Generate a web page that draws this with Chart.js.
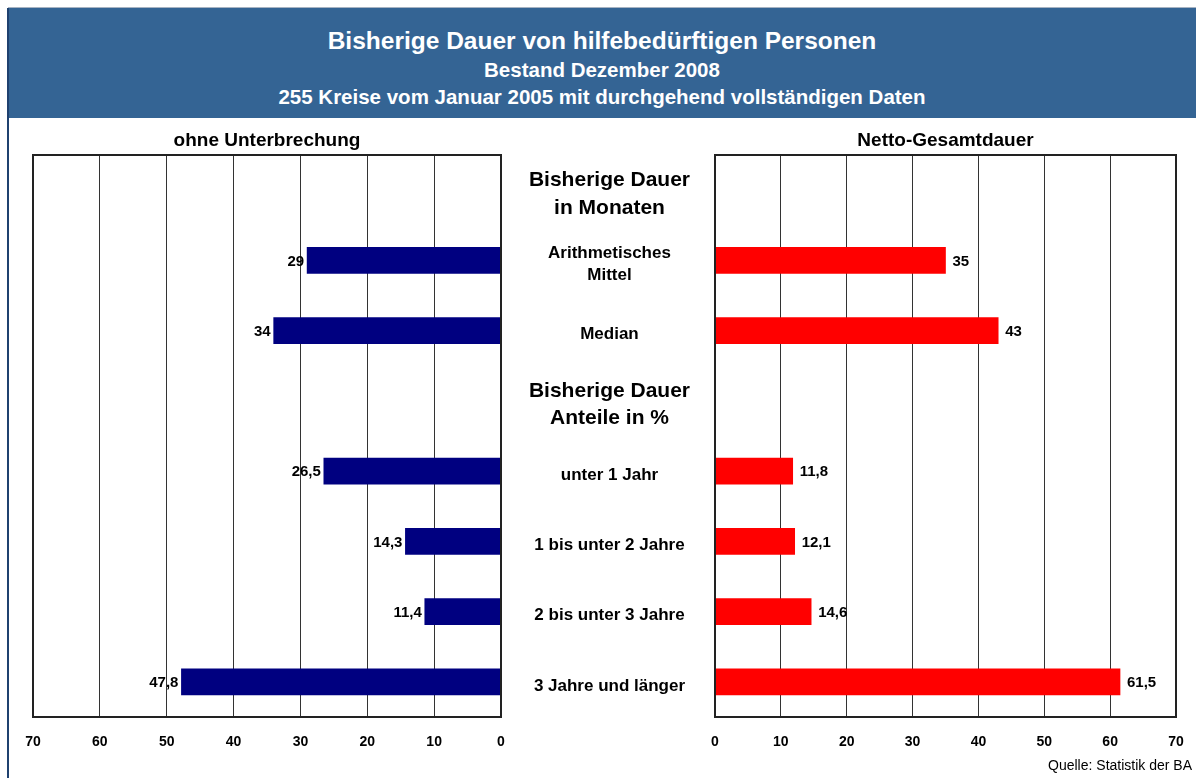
<!DOCTYPE html>
<html>
<head>
<meta charset="utf-8">
<script src="https://cdn.jsdelivr.net/npm/chart.js@4.4.1/dist/chart.umd.min.js"></script>
<style>
body { margin:0; width:1196px; height:778px; background:#fff; position:relative; overflow:hidden; font-family:"Liberation Sans", Arial, sans-serif; }
#head { position:absolute; left:8px; top:7px; width:1188px; height:110px; background:#346494; border-top:1px solid #a7b3c2; color:#fff; font-weight:bold; text-align:center; }
#head div { position:absolute; left:0; width:1188px; white-space:nowrap; }
#t1 { top:19px; font-size:24.5px; line-height:28px; }
#t2 { top:50px; font-size:20.5px; line-height:24px; }
#t3 { top:77px; font-size:20.5px; line-height:24px; }
#edge { position:absolute; left:7px; top:8px; width:2px; height:770px; background:#1f416f; }
#src { position:absolute; right:4px; top:757px; font-size:14px; color:#000; }
canvas { position:absolute; }
#left { left:0; top:118px; }
#right { left:500px; top:118px; }
</style>
</head>
<body>
<div id="head">
  <div id="t1">Bisherige Dauer von hilfebedürftigen Personen</div>
  <div id="t2">Bestand Dezember 2008</div>
  <div id="t3">255 Kreise vom Januar 2005 mit durchgehend vollständigen Daten</div>
</div>
<div id="edge"></div>
<canvas id="left" width="520" height="660"></canvas>
<canvas id="right" width="696" height="660"></canvas>
<div id="src">Quelle: Statistik der BA</div>
<script>
// categories (rows 0 and 3 are section headings without bars)
var categories = [
    ['Bisherige Dauer', 'in Monaten'],
    ['Arithmetisches', 'Mittel'],
    'Median',
    ['Bisherige Dauer', 'Anteile in %'],
    'unter 1 Jahr',
    '1 bis unter 2 Jahre',
    '2 bis unter 3 Jahre',
    '3 Jahre und länger'
];
var headingRows = [0, 3];
var ohneUnterbrechung = [null, 29, 34, null, 26.5, 14.3, 11.4, 47.8];
var nettoGesamtdauer = [null, 35, 43, null, 11.8, 12.1, 14.6, 61.5];
var axisMax = 70;
var axisStep = 10;

function fmt(v) {
    return String(v).replace('.', ',');
}

var framePlugin = {
    id: 'frame',
    afterDraw: function(chart, args, opts) {
        var a = chart.chartArea;
        var ctx = chart.ctx;
        ctx.save();
        ctx.strokeStyle = '#222';
        ctx.lineWidth = 2;
        ctx.strokeRect(a.left, a.top, a.right - a.left, a.bottom - a.top);
        ctx.fillStyle = '#000';
        ctx.font = 'bold 19px "Liberation Sans", Arial, sans-serif';
        ctx.textAlign = 'center';
        ctx.textBaseline = 'middle';
        ctx.fillText(opts.text, (a.left + a.right) / 2, a.top - 14);
        ctx.restore();
    }
};

var valuePlugin = {
    id: 'values',
    afterDatasetsDraw: function(chart, args, opts) {
        var ctx = chart.ctx;
        var meta = chart.getDatasetMeta(0);
        var data = chart.data.datasets[0].data;
        ctx.save();
        ctx.fillStyle = '#000';
        ctx.font = 'bold 15px "Liberation Sans", Arial, sans-serif';
        ctx.textBaseline = 'middle';
        ctx.textAlign = opts.side == 'left' ? 'right' : 'left';
        meta.data.forEach(function(el, i) {
            if (data[i] === null) return;
            var x = opts.side == 'left' ? el.x - 3 : el.x + 7;
            ctx.fillText(fmt(data[i]), x, el.y + 1);
        });
        ctx.restore();
    }
};

function xAxis(reverse) {
    return {
        reverse: reverse,
        min: 0,
        max: axisMax,
        border: { display: false },
        grid: { color: '#333', lineWidth: 1, drawTicks: false },
        ticks: {
            stepSize: axisStep,
            padding: 17,
            color: '#000',
            font: { family: '"Liberation Sans", Arial, sans-serif', size: 14, weight: 'bold' }
        },
        afterFit: function(scale) {
            scale.height = 40;
            // the layout padding already leaves room for the end labels
            scale.paddingLeft = 0;
            scale.paddingRight = 0;
        }
    };
}

function makeChart(id, values, colour, reverse, title, side, yOpts, padding) {
    return new Chart(document.getElementById(id), {
        type: 'bar',
        data: {
            labels: categories,
            datasets: [{
                data: values,
                backgroundColor: colour,
                borderWidth: 0,
                barThickness: 26
            }]
        },
        options: {
            indexAxis: 'y',
            responsive: false,
            animation: false,
            layout: { padding: padding },
            plugins: {
                legend: { display: false },
                tooltip: { enabled: false },
                frame: { text: title },
                values: { side: side }
            },
            scales: {
                x: xAxis(reverse),
                y: yOpts
            }
        },
        plugins: [framePlugin, valuePlugin]
    });
}

makeChart('left', ohneUnterbrechung, '#000080', true, 'ohne Unterbrechung', 'left',
    { display: false },
    { left: 33, right: 19, top: 37, bottom: 21 });

makeChart('right', nettoGesamtdauer, '#ff0000', false, 'Netto-Gesamtdauer', 'right',
    {
        position: 'left',
        border: { display: false },
        grid: { display: false, drawTicks: false },
        ticks: {
            crossAlign: 'center',
            padding: 25,
            labelOffset: 4,
            color: '#000',
            font: function(ctx) {
                var heading = headingRows.indexOf(ctx.index) >= 0;
                return {
                    family: '"Liberation Sans", Arial, sans-serif',
                    size: heading ? 21 : 17,
                    weight: 'bold',
                    lineHeight: 1.3
                };
            }
        },
        afterFit: function(scale) { scale.width = 215; }
    },
    { left: 0, right: 20, top: 37, bottom: 21 });
</script>
</body>
</html>
